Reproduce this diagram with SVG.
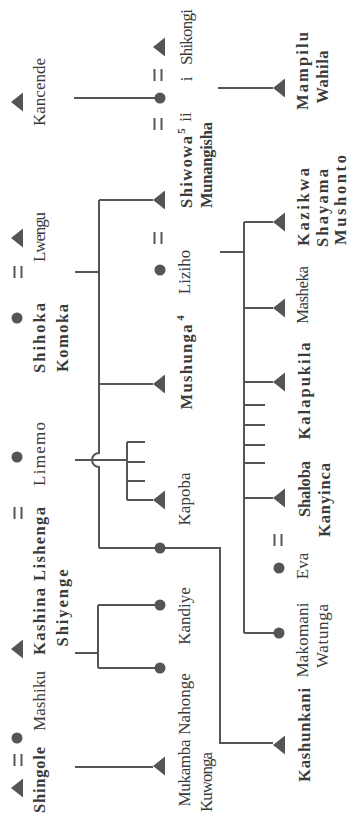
<svg xmlns="http://www.w3.org/2000/svg" width="352" height="823" viewBox="0 0 352 823">
<defs>
<style>
.ln{stroke:#555;stroke-width:2;fill:none}
.sym{fill:#555;stroke:none}
.eq{stroke:#555;stroke-width:2}
.r{font-family:"Liberation Serif","Times New Roman",serif;font-size:17px;fill:#3a3a3a}
.b{font-family:"Liberation Serif","Times New Roman",serif;font-size:16.5px;font-weight:bold;fill:#3a3a3a}
.s{font-family:"Liberation Serif","Times New Roman",serif;font-size:11px;font-weight:bold;fill:#3a3a3a}
</style>
<path id="tri" d="M0 0 L12 -9.5 L12 9.5 Z"/>
<g id="eq"><line x1="-3.5" y1="-6" x2="-3.5" y2="6"/><line x1="3.5" y1="-6" x2="3.5" y2="6"/></g>
</defs>
<rect width="352" height="823" fill="#fff"/>
<g id="connectors" class="ln">
<path d="M74 98 H155"/>
<path d="M218 88 H273"/>
<path d="M99 200 V453 A7 7 0 0 0 99 467 V548"/>
<path d="M99 200 H153"/>
<path d="M75 272 H99"/>
<path d="M99 384 H153"/>
<path d="M75 460 H127"/>
<path d="M127 442 V500 M127 442 H145 M127 462 H145 M127 481 H145 M127 500 H153"/>
<path d="M99 548 H220 V743 H273"/>
<path d="M75 653 H98 M98 605 V668 M98 605 H155 M98 668 H155"/>
<path d="M75 767 H153"/>
<path d="M220 252 H244"/>
<path d="M244 222 V633"/>
<path d="M244 222 H273 M244 308 H273 M244 382 H273 M244 498 H273 M244 633 H274"/>
<path d="M244 405 H265 M244 425 H265 M244 445 H265 M244 463 H265"/>
</g>
<g id="gen1">
<g id="kancende"><use href="#tri" class="sym" x="11" y="102"/><text class="r" transform="translate(45,92) rotate(-90)" text-anchor="middle" textLength="68">Kancende</text></g>
<g id="lwengu"><use href="#tri" class="sym" x="11" y="238"/><text class="r" transform="translate(45,237) rotate(-90)" text-anchor="middle" textLength="50">Lwengu</text></g>
<g id="eq-shihoka" class="eq"><use href="#eq" x="18" y="272"/></g>
<g id="shihoka"><circle class="sym" cx="17" cy="318" r="5.5"/><text class="b" transform="translate(45,338) rotate(-90)" text-anchor="middle" textLength="70">Shihoka</text><text class="b" transform="translate(68,338) rotate(-90)" text-anchor="middle" textLength="68">Komoka</text></g>
<g id="limemo"><circle class="sym" cx="17" cy="457" r="5.5"/><text class="r" transform="translate(45,454) rotate(-90)" text-anchor="middle" textLength="64">Limemo</text></g>
<g id="eq-kashina" class="eq"><use href="#eq" x="18" y="513"/></g>
<g id="kashina"><use href="#tri" class="sym" x="11" y="649"/><text class="b" transform="translate(45,581) rotate(-90)" text-anchor="middle" textLength="148">Kashina Lishenga</text><text class="b" transform="translate(68,608) rotate(-90)" text-anchor="middle" textLength="77">Shiyenge</text></g>
<g id="mashiku"><circle class="sym" cx="17" cy="738" r="5.5"/><text class="r" transform="translate(45,701) rotate(-90)" text-anchor="middle" textLength="60">Mashiku</text></g>
<g id="eq-shingole" class="eq"><use href="#eq" x="18" y="760"/></g>
<g id="shingole"><use href="#tri" class="sym" x="11" y="788"/><text class="b" transform="translate(45,780) rotate(-90)" text-anchor="middle" textLength="66">Shingole</text></g>
</g>
<g id="gen2">
<g id="shikongi"><use href="#tri" class="sym" x="153" y="47"/><text class="r" transform="translate(192,37) rotate(-90)" text-anchor="middle" textLength="56">Shikongi</text></g>
<g id="eq-shikongi" class="eq"><use href="#eq" x="158" y="75"/></g>
<text class="r" transform="translate(192,79) rotate(-90)" text-anchor="middle">i</text>
<g id="wife"><circle class="sym" cx="160" cy="98" r="5.5"/></g>
<g id="eq-shiwowa" class="eq"><use href="#eq" x="158" y="124"/></g>
<text class="r" transform="translate(191,117) rotate(-90)" text-anchor="middle">ii</text>
<g id="shiwowa"><use href="#tri" class="sym" x="153" y="200"/><text class="b" transform="translate(192,172) rotate(-90)" text-anchor="middle" textLength="72">Shiwowa</text><text class="s" transform="translate(185,131) rotate(-90)" text-anchor="middle">5</text><text class="b" transform="translate(212,165) rotate(-90)" text-anchor="middle" textLength="86">Munangisha</text></g>
<g id="eq-liziho" class="eq"><use href="#eq" x="158" y="238"/></g>
<g id="liziho"><circle class="sym" cx="160" cy="270" r="5.5"/><text class="r" transform="translate(190,272) rotate(-90)" text-anchor="middle">Liziho</text></g>
<g id="mushunga"><use href="#tri" class="sym" x="153" y="384"/><text class="b" transform="translate(192,367) rotate(-90)" text-anchor="middle" textLength="85">Mushunga</text><text class="s" transform="translate(184,318) rotate(-90)" text-anchor="middle">4</text></g>
<g id="kapoba"><use href="#tri" class="sym" x="153" y="500"/><text class="r" transform="translate(190,499) rotate(-90)" text-anchor="middle" textLength="53">Kapoba</text></g>
<g id="daughter"><circle class="sym" cx="160" cy="548" r="5.5"/></g>
<g id="kandiye"><circle class="sym" cx="160" cy="605" r="5.5"/><text class="r" transform="translate(190,616) rotate(-90)" text-anchor="middle">Kandiye</text></g>
<g id="nahonge"><circle class="sym" cx="160" cy="668" r="5.5"/><text class="r" transform="translate(190,704) rotate(-90)" text-anchor="middle">Nahonge</text></g>
<g id="mukamba"><use href="#tri" class="sym" x="153" y="766"/><text class="r" transform="translate(190,773) rotate(-90)" text-anchor="middle" textLength="67">Mukamba</text><text class="r" transform="translate(212,782) rotate(-90)" text-anchor="middle" textLength="60">Kuwonga</text></g>
</g>
<g id="gen3">
<g id="mampilu"><use href="#tri" class="sym" x="273" y="88"/><text class="b" transform="translate(308,71) rotate(-90)" text-anchor="middle" textLength="78">Mampilu</text><text class="b" transform="translate(328,77) rotate(-90)" text-anchor="middle" textLength="53">Wahila</text></g>
<g id="kazikwa"><use href="#tri" class="sym" x="273" y="222"/><text class="b" transform="translate(309,207) rotate(-90)" text-anchor="middle" textLength="78">Kazikwa</text><text class="b" transform="translate(328,208) rotate(-90)" text-anchor="middle" textLength="78">Shayama</text><text class="b" transform="translate(346,200) rotate(-90)" text-anchor="middle" textLength="90">Mushonto</text></g>
<g id="masheka"><use href="#tri" class="sym" x="273" y="308"/><text class="r" transform="translate(308,295) rotate(-90)" text-anchor="middle" textLength="58">Masheka</text></g>
<g id="kalapukila"><use href="#tri" class="sym" x="273" y="382"/><text class="b" transform="translate(310,391) rotate(-90)" text-anchor="middle" textLength="97">Kalapukila</text></g>
<g id="shaloba"><use href="#tri" class="sym" x="273" y="498"/><text class="b" transform="translate(310,489) rotate(-90)" text-anchor="middle" textLength="56">Shaloba</text><text class="b" transform="translate(330,500) rotate(-90)" text-anchor="middle" textLength="74">Kanyinca</text></g>
<g id="eq-eva" class="eq"><use href="#eq" x="278" y="540"/></g>
<g id="eva"><circle class="sym" cx="279" cy="568" r="5.5"/><text class="r" transform="translate(308,566) rotate(-90)" text-anchor="middle">Eva</text></g>
<g id="makomani"><circle class="sym" cx="279" cy="633" r="5.5"/><text class="r" transform="translate(308,640) rotate(-90)" text-anchor="middle" textLength="75">Makomani</text><text class="r" transform="translate(328,636) rotate(-90)" text-anchor="middle" textLength="64">Watunga</text></g>
<g id="kashunkani"><use href="#tri" class="sym" x="273" y="745"/><text class="b" transform="translate(310,735) rotate(-90)" text-anchor="middle" textLength="94">Kashunkani</text></g>
</g>
</svg>
